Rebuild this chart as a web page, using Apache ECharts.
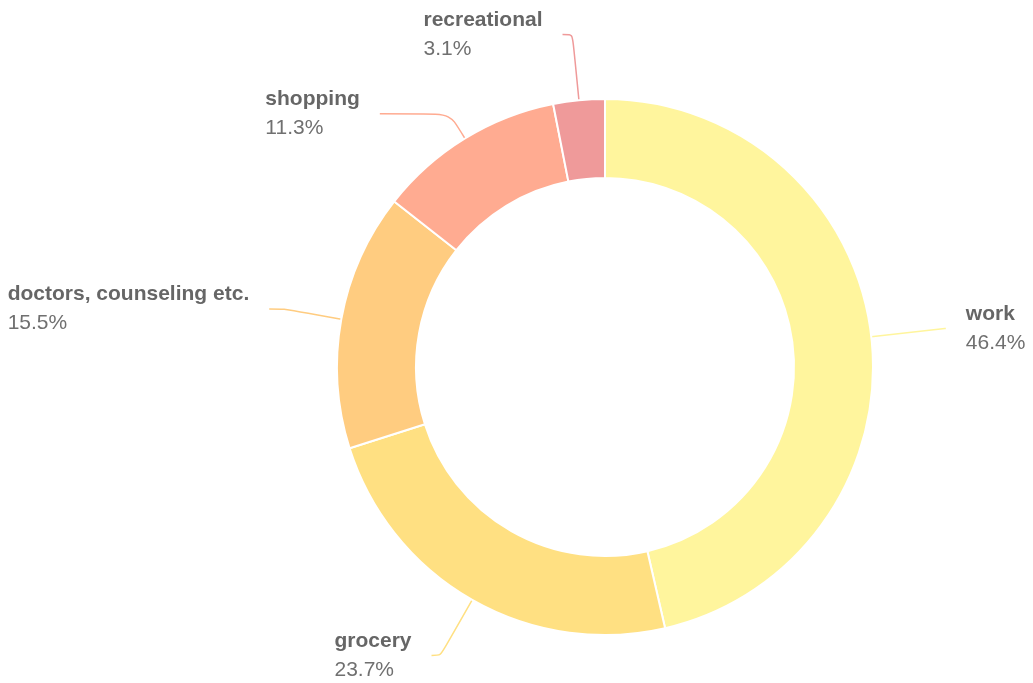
<!DOCTYPE html>
<html>
<head>
<meta charset="utf-8">
<script src="https://cdn.jsdelivr.net/npm/echarts@6/dist/echarts.min.js"></script>
<style>
html, body { margin: 0; padding: 0; background: #ffffff; }
#chart { width: 1033px; height: 683px; }
</style>
</head>
<body>
<div id="chart"></div>
<script>
// trip purposes, percent of trips
var categories = ['work', 'grocery', 'doctors, counseling etc.', 'shopping', 'recreational'];
var values = [46.4, 23.7, 15.5, 11.3, 3.1];
var colors = ['#fff59d', '#ffe082', '#ffcc80', '#ffab91', '#ef9a9a'];

// connector lengths [first, second] per slice, so labels sit like the original
var lineLengths = {
    'work': [74, 1],
    'grocery': [64, 9],
    'doctors, counseling etc.': [58, 15],
    'shopping': [29, 70],
    'recreational': [66, 10]
};

var pieData = [];
for (var i = 0; i < categories.length; i++) {
    var ll = lineLengths[categories[i]];
    pieData.push({
        name: categories[i],
        value: values[i],
        labelLine: { length: ll[0], length2: ll[1] }
    });
}

var myChart = echarts.init(document.getElementById('chart'));
myChart.setOption({
    color: colors,
    animation: false,
    series: [{
        type: 'pie',
        center: [605, 367],
        radius: [189, 268],
        startAngle: 90,
        clockwise: true,
        avoidLabelOverlap: false,
        data: pieData,
        itemStyle: {
            borderColor: '#ffffff',
            borderWidth: 2
        },
        label: {
            formatter: function (p) {
                return '{name|' + p.name + '}\n{value|' + p.value.toFixed(1) + '%}';
            },
            overflow: 'none',
            edgeDistance: 0,
            distanceToLabelLine: 20,
            rich: {
                name: {
                    fontFamily: 'Liberation Sans, Arial, sans-serif',
                    fontSize: 21,
                    fontWeight: 'bold',
                    color: '#666666',
                    align: 'left',
                    lineHeight: 29
                },
                value: {
                    fontFamily: 'Liberation Sans, Arial, sans-serif',
                    fontSize: 21,
                    color: '#707070',
                    align: 'left',
                    lineHeight: 29
                }
            }
        },
        labelLine: {
            smooth: 0.25,
            lineStyle: { width: 1.5 }
        }
    }]
});
</script>
</body>
</html>
